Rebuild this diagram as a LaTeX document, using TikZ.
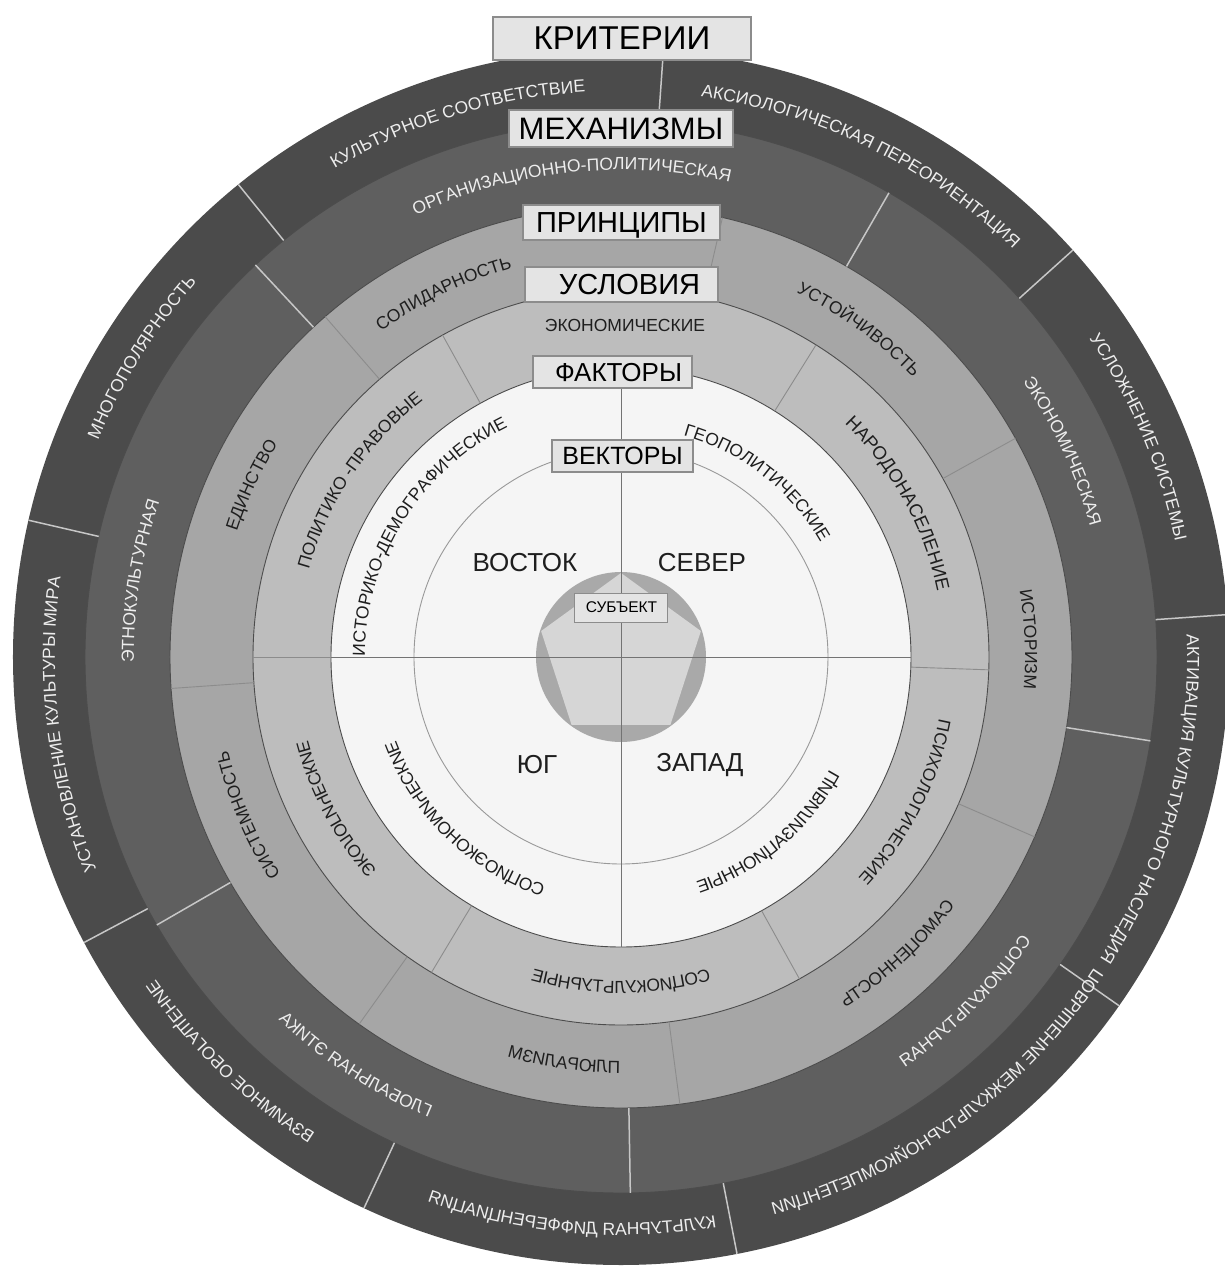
\documentclass[tikz,border=0pt]{standalone}
\usepackage{fontspec}
\setmainfont{Liberation Sans}
\usetikzlibrary{decorations.text}
\definecolor{critring}{HTML}{4B4B4B}
\definecolor{mechring}{HTML}{5F5F5F}
\definecolor{princring}{HTML}{A6A6A6}
\definecolor{condring}{HTML}{BDBDBD}
\definecolor{factring}{HTML}{F5F5F5}
\definecolor{subjring}{HTML}{A9A9A9}
\definecolor{subjpent}{HTML}{D6D6D6}
\definecolor{boxfill}{HTML}{E4E4E4}
\definecolor{boxline}{HTML}{8C8C8C}
\definecolor{darktext}{HTML}{1E1E1E}
\definecolor{lighttext}{HTML}{EDEDED}
\newcommand\ringfont{\fontsize{17.5}{20}\selectfont}
\newcommand\bigringfont{\fontsize{18.5}{20}\selectfont}

\begin{document}
\begin{tikzpicture}[x=1pt, y=1pt,
    ringedge/.style={draw=black!70, line width=0.9pt},
    lightcut/.style={draw=white!78!black, line width=1.5pt},
    graycut/.style={draw=black!45, line width=0.9pt},
    axisline/.style={draw=black!55, line width=0.9pt},
    header/.style={draw=boxline, fill=boxfill, line width=1.2pt, inner sep=0pt, text depth=0pt, text=black},
    compass/.style={font=\fontsize{26}{26}\selectfont, text=darktext},
    curved/.style={decorate, decoration={text along path, text align=center, text={|\ringfont|#1}, text color=darktext}},
    light/.style={decoration={text color=lighttext}}]
    \useasboundingbox (-621,-613) rectangle (604,657);
    \coordinate (c) at (0,0);

    % rings
    \fill[critring] (c) circle[radius=608];
    \filldraw[mechring, ringedge] (c) circle[radius=536];
    \filldraw[princring, ringedge] (c) circle[radius=451];
    \filldraw[condring, ringedge] (c) circle[radius=368];
    \filldraw[factring, ringedge] (c) circle[radius=290];
    \draw[black!40, line width=0.9pt] (c) circle[radius=207];

    % dividers
    \foreach \a in {86,42,4,-35,-79,-115,-152,167,129}
        \draw[lightcut] (\a:536) -- (\a:608);
    \foreach \a in {60,-9,-89,210,133}
        \draw[lightcut] (\a:451) -- (\a:536);
    \foreach \a in {77,29,-23.5,-82.5,234.5,184,131}
        \draw[graycut] (\a:368) -- (\a:451);
    \foreach \a in {119,58,-2,-61,239,180}
        \draw[graycut] (\a:290) -- (\a:368);

    % subject
    \fill[subjring] (c) circle[radius=85];
    \fill[subjpent] (90:84) -- (162:84) -- (234:84) -- (306:84) -- (18:84) -- cycle;
    \coordinate (north) at (90:290);
    \coordinate (south) at (270:290);
    \coordinate (west) at (180:290);
    \coordinate (east) at (0:290);
    \draw[axisline] (north) -- (south);
    \draw[axisline] (west) -- (east);

    % outer ring labels
    \path[curved={КУЛЬТУРНОЕ СООТВЕТСТВИЕ}, light] (182:566) arc[start angle=182, end angle=32, radius=566];
    \path[curved={АКСИОЛОГИЧЕСКАЯ ПЕРЕОРИЕНТАЦИЯ}, light] (139:566) arc[start angle=139, end angle=-11, radius=566];
    \path[curved={УСЛОЖНЕНИЕ СИСТЕМЫ}, light] (98:566) arc[start angle=98, end angle=-52, radius=566];
    \path[curved={АКТИВАЦИЯ КУЛЬТУРНОГО НАСЛЕДИЯ}, light] (60:566) arc[start angle=60, end angle=-90, radius=566];
    \path[curved={УСТАНОВЛЕНИЕ КУЛЬТУРЫ МИРА}, light] (262:566) arc[start angle=262, end angle=112, radius=566];
    \path[curved={МНОГОПОЛЯРНОСТЬ}, light] (223:566) arc[start angle=223, end angle=73, radius=566];

    % mechanisms
    \path[curved={ОРГАНИЗАЦИОННО-ПОЛИТИЧЕСКАЯ}, light] (171:487) arc[start angle=171, end angle=21, radius=487];
    \path[curved={ЭКОНОМИЧЕСКАЯ}, light] (100:487) arc[start angle=100, end angle=-50, radius=487];
    \path[curved={ЭТНОКУЛЬТУРНАЯ}, light] (246:487) arc[start angle=246, end angle=96, radius=487];

    % principles
    \path[curved={СОЛИДАРНОСТЬ}] (191:404) arc[start angle=191, end angle=41, radius=404];
    \path[curved={УСТОЙЧИВОСТЬ}] (129:404) arc[start angle=129, end angle=-21, radius=404];
    \path[curved={ИСТОРИЗМ}] (77.5:404) arc[start angle=77.5, end angle=-72.5, radius=404];
    \path[curved={СИСТЕМНОСТЬ}] (278:404) arc[start angle=278, end angle=128, radius=404];
    \path[curved={ЕДИНСТВО}] (230:404) arc[start angle=230, end angle=80, radius=404];

    % conditions
    \node[text=darktext, font=\ringfont] (econ) at (4,332) {ЭКОНОМИЧЕСКИЕ};
    \path[curved={|\bigringfont|НАРОДОНАСЕЛЕНИЕ}] (104:323) arc[start angle=104, end angle=-46, radius=323];
    \path[curved={ПСИХОЛОГИЧЕСКИЕ}] (48:324) arc[start angle=48, end angle=-102, radius=324];
    \path[curved={ПОЛИТИКО -ПРАВОВЫЕ}] (221:324) arc[start angle=221, end angle=71, radius=324];

    % factors
    \path[curved={ИСТОРИКО-ДЕМОГРАФИЧЕСКИЕ}] (233:256) arc[start angle=233, end angle=63, radius=256];
    \path[curved={ГЕОПОЛИТИЧЕСКИЕ}] (127:230) arc[start angle=127, end angle=-23, radius=230];

    % lower half, mirrored
    \begin{scope}[transform canvas={xscale=-1}]
        \path[curved={ПОВЫШЕНИЕ МЕЖКУЛЬТУРНОЙКОМПЕТЕНЦИИ}, light] (159:578) arc[start angle=159, end angle=309, radius=578];
        \path[curved={КУЛЬТУРНАЯ ДИФФЕРЕНЦИАЦИЯ}, light] (200:578) arc[start angle=200, end angle=350, radius=578];
        \path[curved={ВЗАИМНОЕ ОБОГАЩЕНИЕ}, light] (-121:578) arc[start angle=-121, end angle=29, radius=578];
        \path[curved={СОЦИОКУЛЬТУРНАЯ}, light] (150:499) arc[start angle=150, end angle=300, radius=499];
        \path[curved={ГЛОБАЛЬНАЯ ЭТИКА}, light] (-132:499) arc[start angle=-132, end angle=18, radius=499];
        \path[curved={САМОЦЕННОСТЬ}] (152:416) arc[start angle=152, end angle=302, radius=416];
        \path[curved={ПЛЮРАЛИЗМ}] (-157:416) arc[start angle=-157, end angle=-7, radius=416];
        \path[curved={СОЦИОКУЛЬТУРНЫЕ}] (-165:336) arc[start angle=-165, end angle=-15, radius=336];
        \path[curved={ЭКОЛОГИЧЕСКИЕ}] (-103:336) arc[start angle=-103, end angle=47, radius=336];
        \path[curved={ЦИВИЛИЗАЦИОННЫЕ}] (150:249) arc[start angle=150, end angle=310, radius=249];
        \path[curved={СОЦИОЭКОНОМИЧЕСКИЕ}] (-126:252) arc[start angle=-126, end angle=34, radius=252];
    \end{scope}

    % compass words
    \node[compass] (east-w) at (-96,94) {ВОСТОК};
    \node[compass] (north-w) at (81,94) {СЕВЕР};
    \node[compass] (south-w) at (-84,-108) {ЮГ};
    \node[compass] (west-w) at (79,-108) {ЗАПАД};

    % headers
    \node[header, minimum width=258, minimum height=43, font=\fontsize{33}{33}\selectfont] (crit) at (1,618.5) {КРИТЕРИИ};
    \node[header, minimum width=224, minimum height=37, font=\fontsize{31}{31}\selectfont] (mech) at (0,528.5) {МЕХАНИЗМЫ};
    \node[header, minimum width=197, minimum height=35, font=\fontsize{29}{29}\selectfont] (princ) at (0.5,434.5) {ПРИНЦИПЫ};
    \node[header, minimum width=193, minimum height=35, font=\fontsize{29}{29}\selectfont] (cond) at (0.5,372.5) {\hspace*{16pt}УСЛОВИЯ};
    \node[header, minimum width=159, minimum height=32, font=\fontsize{26}{26}\selectfont] (fact) at (-8.5,285) {\hspace*{12pt}ФАКТОРЫ};
    \node[header, minimum width=141, minimum height=32, font=\fontsize{25}{25}\selectfont] (vect) at (1.5,201) {ВЕКТОРЫ};
    \node[header, minimum width=93, minimum height=29, line width=1pt, font=\fontsize{15.5}{15.5}\selectfont] (subj) at (0.5,49.5) {СУБЪЕКТ};
\end{tikzpicture}
\end{document}
